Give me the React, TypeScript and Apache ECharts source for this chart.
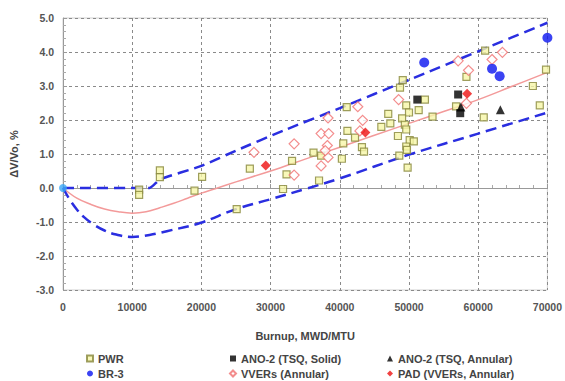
import React, { useEffect, useRef } from "react";
import * as echarts from "echarts";

const xTicks = [0, 10000, 20000, 30000, 40000, 50000, 60000, 70000];
const yTicks = [-3, -2, -1, 0, 1, 2, 3, 4, 5];

const pwr: number[][] = [
  [11000, -0.05], [11000, -0.2], [14000, 0.52], [14000, 0.32], [19000, -0.08], [20100, 0.33],
  [25100, -0.62], [27000, 0.57], [31800, -0.03], [32300, 0.4], [33100, 0.8], [36200, 1.04],
  [37000, 0.22], [37300, 0.95], [40300, 0.86], [40500, 1.31], [41000, 2.38], [41100, 1.68],
  [42200, 1.48], [43200, 1.2], [43500, 1.07], [46000, 1.8], [47000, 2.18], [47300, 1.9],
  [48400, 1.53], [48600, 0.95], [48700, 2.95], [49100, 3.17], [49600, 2.43], [50000, 2.22],
  [49000, 2.05], [49400, 1.86], [49600, 1.72], [50100, 1.41], [50700, 1.37], [49600, 1.22],
  [49700, 1.12], [49800, 0.6], [51400, 2.29], [52300, 2.6], [53400, 2.1], [56800, 2.4],
  [58300, 3.27], [60800, 2.08], [61000, 4.04], [67900, 3.0], [68900, 2.43], [69800, 3.48],
];
const br3: number[][] = [[52200, 3.69], [62000, 3.51], [63100, 3.29], [70000, 4.42]];
const originPoint: number[][] = [[0, 0]];
const anoSolid: number[][] = [[51200, 2.6], [57100, 2.75], [57400, 2.2]];
const anoAnnular: number[][] = [[57500, 2.38], [63200, 2.3]];
const vver: number[][] = [
  [27600, 1.05], [33400, 1.3], [33400, 0.38], [37300, 1.6], [38400, 1.6], [38300, 2.06],
  [38200, 1.25], [37300, 0.65], [38300, 0.9], [37900, 1.1], [42600, 2.39], [43300, 1.99],
  [42900, 1.68], [48500, 2.6], [57100, 3.74], [58600, 3.46], [58300, 2.49], [62000, 3.78],
  [63500, 3.99],
];
const pad: number[][] = [[29300, 0.66], [43700, 1.63], [58400, 2.77]];

const fitCurve: number[][] = [
  [0, 0], [2000, -0.3], [4000, -0.48], [6000, -0.62], [8000, -0.7], [10000, -0.74],
  [12000, -0.7], [14000, -0.58], [16000, -0.45], [18000, -0.3], [20000, -0.15], [22000, -0.02],
  [25000, 0.18], [30000, 0.5], [35000, 0.85], [40000, 1.2], [45000, 1.55], [50000, 1.9],
  [55000, 2.25], [60000, 2.6], [65000, 3.0], [70000, 3.4],
];
const upperBound: number[][] = [
  [0, 0], [12500, 0], [14000, 0.25], [20000, 0.65], [25000, 1.1], [32000, 1.7],
  [40000, 2.35], [50000, 3.18], [60000, 4.02], [70000, 4.86],
];
const lowerBound: number[][] = [
  [0, 0], [1000, -0.35], [2000, -0.63], [3000, -0.85], [4400, -1.07], [6000, -1.25],
  [7700, -1.37], [10000, -1.44], [12500, -1.38], [15000, -1.27], [19800, -1.03], [25000, -0.62],
  [30000, -0.33], [35000, -0.03], [40000, 0.28], [50000, 0.98], [60000, 1.6], [70000, 2.22],
];

const FONT = "'Liberation Sans', Arial, sans-serif";

export default function App() {
  const ref = useRef<HTMLDivElement>(null);
  useEffect(() => {
    if (!ref.current) return;
    const chart = echarts.init(ref.current, undefined, { renderer: "svg" });
    const legendText = { fontFamily: FONT, fontWeight: "bold", fontSize: 11, color: "#444" };
    const legendBase = {
      orient: "vertical",
      top: 353,
      itemWidth: 6,
      itemHeight: 6,
      itemGap: 4,
      textStyle: legendText,
      selectedMode: false,
      padding: 0,
    };
    chart.setOption({
      animation: false,
      backgroundColor: "#fff",
      grid: { left: 63, right: 17, top: 18, bottom: 91, show: true, borderColor: "#d0d0d0", borderWidth: 1 },
      legend: [
        { ...legendBase, left: 86, data: [{ name: "PWR", icon: "rect" }, { name: "BR-3", icon: "circle" }] },
        {
          ...legendBase, left: 229,
          data: [{ name: "ANO-2 (TSQ, Solid)", icon: "rect" }, { name: "VVERs (Annular)", icon: "diamond" }],
        },
        {
          ...legendBase, left: 387,
          data: [{ name: "ANO-2 (TSQ, Annular)", icon: "triangle" }, { name: "PAD (VVERs, Annular)", icon: "diamond" }],
        },
      ],
      xAxis: {
        type: "value",
        min: xTicks[0],
        max: xTicks[xTicks.length - 1],
        interval: 10000,
        name: "Burnup, MWD/MTU",
        nameLocation: "middle",
        nameGap: 40,
        nameTextStyle: { fontFamily: FONT, fontWeight: "bold", fontSize: 11, color: "#444" },
        axisLine: { lineStyle: { color: "#999" } },
        axisTick: { show: true, inside: true, length: 4, lineStyle: { color: "#999" } },
        minorTick: { show: true, splitNumber: 5, length: 3, lineStyle: { color: "#aaa" } },
        axisLabel: {
          fontFamily: FONT, fontWeight: "bold", fontSize: 10.5, color: "#555", margin: 11,
          formatter: (v: number) => String(v),
        },
        splitLine: { show: true, lineStyle: { color: "#8a8a8a", type: [3, 3], width: 1 } },
      },
      yAxis: {
        type: "value",
        min: yTicks[0],
        max: yTicks[yTicks.length - 1],
        interval: 1,
        name: "ΔV/Vo, %",
        nameLocation: "middle",
        nameGap: 44,
        nameTextStyle: { fontFamily: FONT, fontWeight: "bold", fontSize: 11, color: "#444" },
        axisLine: { show: true, lineStyle: { color: "#999" } },
        axisTick: { show: true, inside: true, length: 4, lineStyle: { color: "#999" } },
        minorTick: { show: true, splitNumber: 5, length: 3, lineStyle: { color: "#aaa" } },
        axisLabel: {
          fontFamily: FONT, fontWeight: "bold", fontSize: 10.5, color: "#555", margin: 9,
          formatter: (v: number) => v.toFixed(1),
        },
        splitLine: { show: true, lineStyle: { color: "#8a8a8a", type: [3, 3], width: 1 } },
      },
      series: [
        {
          name: "fit", type: "line", data: fitCurve, showSymbol: false, smooth: 0.4, z: 2,
          lineStyle: { color: "#f39a9a", width: 1.5 }, silent: true,
        },
        {
          name: "upper", type: "line", data: upperBound, showSymbol: false, smooth: 0.2, z: 2,
          lineStyle: { color: "#2a2ee0", width: 2.5, type: [11, 6] }, silent: true,
        },
        {
          name: "lower", type: "line", data: lowerBound, showSymbol: false, smooth: 0.4, z: 2,
          lineStyle: { color: "#2a2ee0", width: 2.5, type: [11, 6] }, silent: true,
        },
        {
          name: "PWR", type: "scatter", data: pwr, symbol: "rect", symbolSize: 7, z: 3,
          itemStyle: { color: "#f6f6a8", borderColor: "#86863a", borderWidth: 1.2 },
        },
        {
          name: "BR-3", type: "scatter", data: br3, symbol: "circle", symbolSize: 10, z: 4,
          itemStyle: { color: "#0a14f0" },
        },
        {
          name: "origin", type: "scatter", data: originPoint, symbol: "circle", symbolSize: 8, z: 4,
          itemStyle: { color: "#3aa8f5" },
        },
        {
          name: "ANO-2 (TSQ, Solid)", type: "scatter", data: anoSolid, symbol: "rect", symbolSize: 8, z: 4,
          itemStyle: { color: "#000" },
        },
        {
          name: "ANO-2 (TSQ, Annular)", type: "scatter", data: anoAnnular, symbol: "triangle", symbolSize: 9, z: 4,
          itemStyle: { color: "#000" },
        },
        {
          name: "VVERs (Annular)", type: "scatter", data: vver, symbol: "diamond", symbolSize: 10, z: 3,
          itemStyle: { color: "#fff", borderColor: "#f07070", borderWidth: 1.2 },
        },
        {
          name: "PAD (VVERs, Annular)", type: "scatter", data: pad, symbol: "diamond", symbolSize: 10, z: 4,
          itemStyle: { color: "#ee1111" },
        },
      ],
    });
    return () => chart.dispose();
  }, []);
  return <div ref={ref} style={{ width: 565, height: 381, position: "absolute", left: 0, top: 0 }} />;
}
